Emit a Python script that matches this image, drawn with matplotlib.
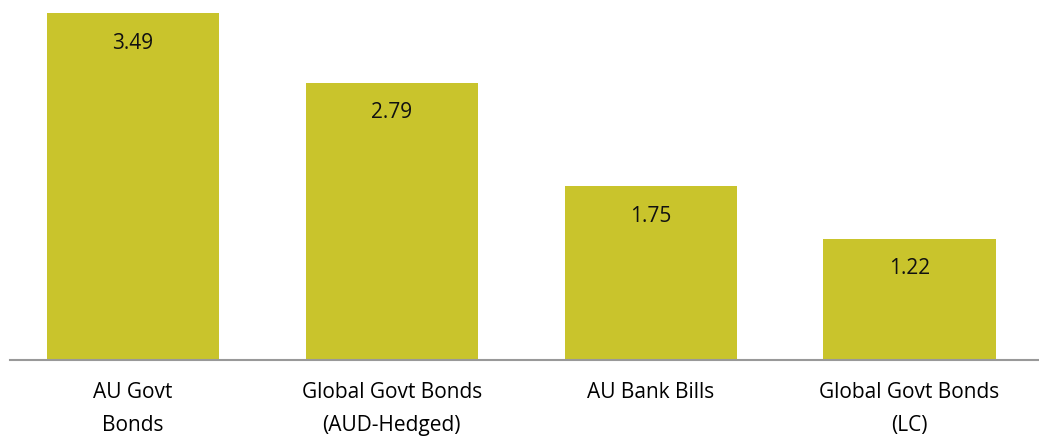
import matplotlib
matplotlib.use("Agg")
import matplotlib.pyplot as plt

categories = ["AU Govt\nBonds", "Global Govt Bonds\n(AUD-Hedged)", "AU Bank Bills", "Global Govt Bonds\n(LC)"]
values = [3.49, 2.79, 1.75, 1.22]

plt.rcParams["font.family"] = ["Open Sans", "DejaVu Sans"]

W, H = 1039, 436
fig = plt.figure(figsize=(W / 100, H / 100), dpi=100)
ax = fig.add_axes([10 / W, 76 / H, 1 - 10 / W, 360 / H])

x = range(len(values))
bars = ax.bar(x, values, width=0.665, color="#C9C42C", zorder=2)
for b, v in zip(bars, values):
    ax.annotate(f"{v:.2f}", (b.get_x() + b.get_width() / 2, v),
                xytext=(0, -30), textcoords="offset pixels",
                ha="center", va="center", fontsize=15, color="#111111")

ax.set_xlim(-0.475, 3.5)
ax.set_ylim(0, 360 / 99.4)
ax.set_xticks(list(x))
ax.set_xticklabels(categories, fontsize=15, linespacing=1.75)
ax.tick_params(axis="x", length=0, pad=16)
ax.set_yticks([])
for s in ["top", "right", "left"]:
    ax.spines[s].set_visible(False)
ax.spines["bottom"].set_color("#999999")
ax.spines["bottom"].set_linewidth(1.5)

fig.savefig("out.png", dpi=100)
